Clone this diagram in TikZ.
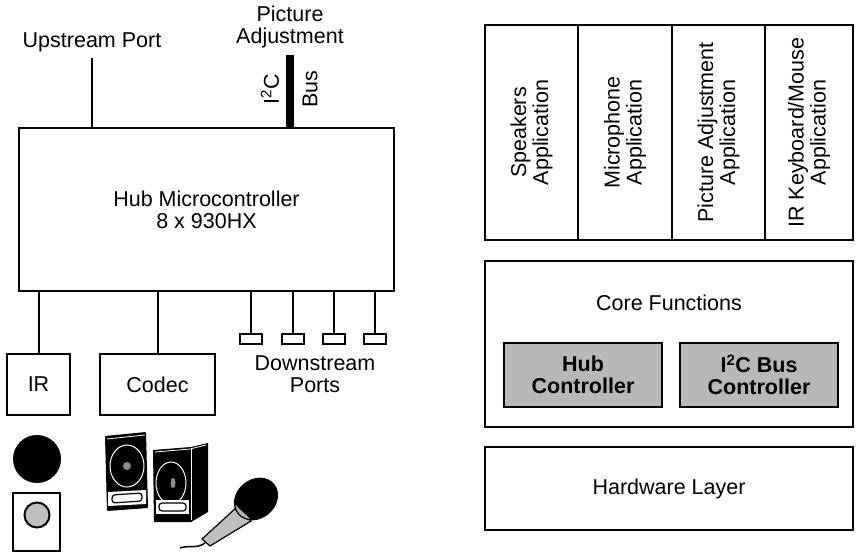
\documentclass[tikz,border=0pt]{standalone}
\usepackage{fontspec}
\setmainfont{Liberation Sans}
\usetikzlibrary{positioning}

\begin{document}
\begin{tikzpicture}
[x=1pt,y=-1pt,
every node/.style={font=\fontsize{21.5}{22}\selectfont,align=center,inner sep=0pt},
box/.style={draw,line width=2.6pt,rectangle},
ctl/.style={box,fill=black!28,font=\fontsize{21.5}{22}\selectfont\bfseries},
wire/.style={line width=2pt},
port/.style={draw,line width=2pt,minimum width=22,minimum height=10}]
\useasboundingbox (0,0) rectangle (856,553);

% hub side
\node[box,minimum width=375,minimum height=163] (hub) at (206.5,209.5) {Hub Microcontroller\\8 x 930HX};
\node (upstream) at (92,42) {Upstream Port};
\draw[wire,shorten <=6pt] (upstream.south) -- (upstream.south |- hub.north);
\node (picadj) at (290,27) {Picture\\Adjustment};
\draw[line width=7.5pt,shorten <=7pt] (picadj.south) -- (picadj.south |- hub.north);
\node[rotate=90] (i2clbl) at (270,89) {I\textsuperscript{2}C};
\node[rotate=90] (buslbl) at (310,89) {Bus};

\node[box,minimum width=63,minimum height=61] (ir) at (38.5,384.5) {IR};
\node[box,minimum width=115,minimum height=61] (codec) at (157.5,384.5) {Codec};
\draw[wire] (ir.north) -- (ir.north |- hub.south);
\draw[wire] (codec.north) -- (codec.north |- hub.south);

\foreach \i/\px in {1/251,2/293,3/334,4/375}{
  \node[port] (p\i) at (\px,339) {};
  \draw[wire] (p\i.north) -- (p\i.north |- hub.south);
}
\node (dsports) at (315,374) {Downstream\\Ports};

% IR sensor and remote
\fill (37,459) circle (24);
\draw[line width=2pt] (13,493) rectangle (60,551);
\draw[line width=2pt,fill=black!25] (37,515) circle (12.5);

% speakers
\fill[rounded corners=1pt] (105,436) -- (146,432) -- (148,508) -- (107,511) -- cycle;
\draw[white,line width=0.8pt] (107,439) -- (145,435);
\draw[white,line width=1pt] (127,466) ellipse (17 and 21);
\fill[black!45] (127,466) circle (4);
\fill[white] (108,492) -- (146,490) -- (146,504) -- (108,506) -- cycle;
\draw[line width=1.2pt,rounded corners=3pt] (112,495) -- (142,493) -- (142,501) -- (112,503) -- cycle;

\fill (153,450) -- (191,447) -- (208,443) -- (208,512) -- (191,522) -- (154,522) -- cycle;
\draw[white,line width=0.8pt] (155,452) -- (190,449) -- (206,445);
\draw[white,line width=0.6pt] (191,449) -- (191,520);
\draw[white,line width=1pt] (171,483) ellipse (15 and 21);
\fill[black!45] (173,483) ellipse (2.5 and 5);
\fill[white] (156,500) -- (189,500) -- (189,514) -- (156,514) -- cycle;
\draw[line width=1.2pt,rounded corners=3pt] (159,503) -- (186,503) -- (186,511) -- (159,511) -- cycle;

% microphone
\draw[line width=1.5pt] (205,543) .. controls (197,549) and (188,545) .. (180,548);
\draw[line width=1.2pt,fill=black!25] (237,507) -- (251,521) -- (210,546) -- (202,539) -- cycle;
\begin{scope}
  \clip[rotate around={40:(256,499)}] (256,499) ellipse (23 and 19);
  \fill (230,470) rectangle (285,530);
  \fill[black!30] (228,498) -- (264,532) -- (228,532) -- cycle;
\end{scope}
\draw[line width=1.2pt,rotate around={40:(256,499)}] (256,499) ellipse (23 and 19);

% software layers
\node[box,rotate=90,minimum width=215,minimum height=93] (spkapp) at (531.5,132.5) {Speakers\\Application};
\node[box,rotate=90,minimum width=215,minimum height=94] (micapp) at (625,132.5) {Microphone\\Application};
\node[box,rotate=90,minimum width=215,minimum height=93] (picapp) at (718.5,132.5) {Picture Adjustment\\Application};
\node[box,rotate=90,minimum width=215,minimum height=88] (irapp) at (809,132.5) {IR Keyboard/Mouse\\Application};

\node[box,minimum width=368,minimum height=166] (core) at (669,344) {};
\node (coretitle) at (669,303) {Core Functions};
\node[ctl,minimum width=158,minimum height=64] (hubctl) at (583,375) {Hub\\Controller};
\node[ctl,minimum width=158,minimum height=64] (i2cctl) at (759,375) {I\textsuperscript{2}C Bus\\Controller};

\node[box,minimum width=368,minimum height=83] (hw) at (669,488.5) {Hardware Layer};
\end{tikzpicture}
\end{document}
